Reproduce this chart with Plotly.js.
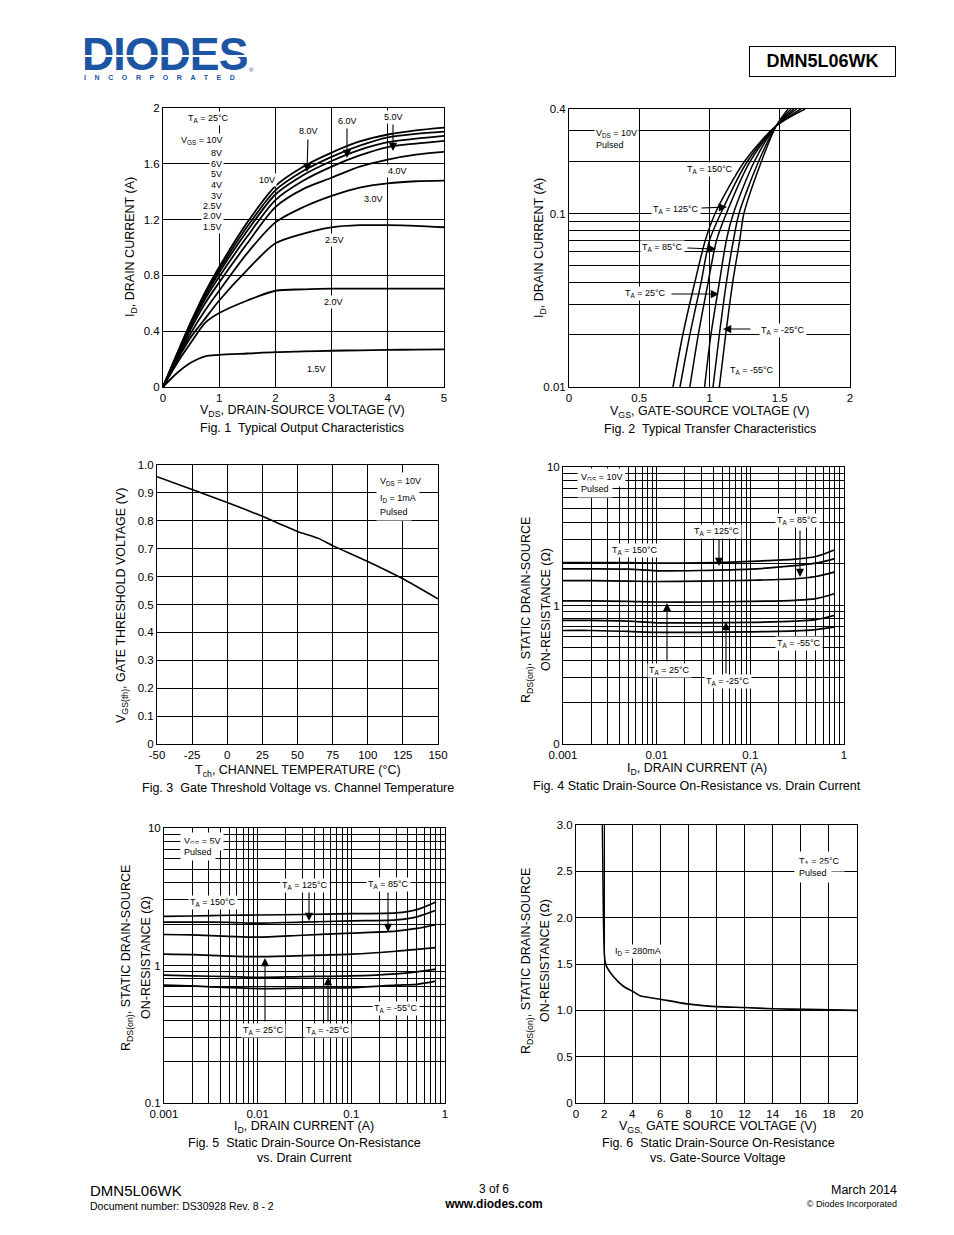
<!DOCTYPE html>
<html>
<head>
<meta charset="utf-8">
<script src="https://cdn.plot.ly/plotly-3.0.1.min.js"></script>
<style>
  body { margin: 0; background: #fff; font-family: "Liberation Sans", Arial, sans-serif; }
  #page { position: relative; width: 954px; height: 1235px; overflow: hidden; }
  #charts { position: absolute; left: 0; top: 0; width: 954px; height: 1235px; }
  .t { position: absolute; white-space: nowrap; line-height: 1; transform: translateY(-50%); color: #000; z-index: 5; }
</style>
</head>
<body>
<div id="page">
  <div id="charts"></div>

  <!-- header -->
  <div class="t" style="left:82px; top:54px; font-size:47px; line-height:0.72; font-weight:bold; color:#1c55a3; letter-spacing:-1px; transform:translateY(-50%) scaleX(0.95); transform-origin:left center;">DIODES</div>
  <div style="position:absolute; left:83px; top:55px; width:166px; height:2px; background:#fff; z-index:6;"></div>
  <div class="t" style="left:249px; top:70px; font-size:6px; color:#1c55a3;">®</div>
  <div class="t" style="left:84px; top:77px; font-size:7px; font-weight:bold; color:#1c55a3; letter-spacing:8.6px;">INCORPORATED</div>
  <div style="position:absolute; left:749px; top:46px; width:145px; height:29px; border:1.5px solid #000; z-index:5; display:flex; align-items:center; justify-content:center; font-size:18px; font-weight:bold;">DMN5L06WK</div>

  <!-- footer -->
  <div class="t" style="left:90px; top:1190px; font-size:15px;">DMN5L06WK</div>
  <div class="t" style="left:90px; top:1206px; font-size:10.5px;">Document number: DS30928 Rev. 8 - 2</div>
  <div class="t" style="left:444px; width:100px; text-align:center; top:1189px; font-size:12px;">3 of 6</div>
  <div class="t" style="left:424px; width:140px; text-align:center; top:1204px; font-size:12px; font-weight:bold;">www.diodes.com</div>
  <div class="t" style="right:57px; top:1190px; font-size:12.5px;">March 2014</div>
  <div class="t" style="right:57px; top:1204px; font-size:9px;">© Diodes Incorporated</div>
</div>

<script>
// ---- Fig. 1  Typical Output Characteristics (ID vs VDS) ----
const vds = [0, 0.25, 0.5, 0.75, 1, 1.5, 2, 2.5, 3, 3.5, 4, 4.5, 5];
const id_vgs10 = [0, 0.24, 0.47, 0.68, 0.86, 1.18, 1.44, 1.58, 1.68, 1.76, 1.81, 1.84, 1.86];
const id_vgs8 = [0, 0.235, 0.46, 0.665, 0.84, 1.15, 1.41, 1.55, 1.65, 1.73, 1.79, 1.815, 1.83];
const id_vgs6 = [0, 0.23, 0.45, 0.65, 0.82, 1.12, 1.38, 1.52, 1.62, 1.70, 1.755, 1.78, 1.80];
const id_vgs5 = [0, 0.225, 0.44, 0.63, 0.79, 1.08, 1.34, 1.48, 1.58, 1.66, 1.72, 1.745, 1.765];
const id_vgs4 = [0, 0.215, 0.42, 0.60, 0.75, 1.03, 1.29, 1.42, 1.50, 1.58, 1.63, 1.665, 1.685];
const id_vgs3 = [0, 0.2, 0.39, 0.55, 0.69, 0.96, 1.18, 1.29, 1.37, 1.43, 1.46, 1.475, 1.48];
const id_vgs25 = [0, 0.19, 0.36, 0.49, 0.62, 0.84, 1.03, 1.10, 1.145, 1.16, 1.16, 1.155, 1.145];
const id_vgs20 = [0, 0.17, 0.32, 0.46, 0.53, 0.62, 0.69, 0.70, 0.705, 0.705, 0.705, 0.705, 0.705];
const id_vgs15 = [0, 0.1, 0.175, 0.22, 0.23, 0.24, 0.25, 0.255, 0.26, 0.263, 0.266, 0.268, 0.27];

// ---- Fig. 2  Typical Transfer Characteristics (VGS at given ID) ----
const id_levels = [0.01, 0.02, 0.04, 0.07, 0.1, 0.2, 0.32, 0.4];
const vgs_t150 = [0.74, 0.81, 0.895, 0.97, 1.04, 1.25, 1.475, 1.68];
const vgs_t125 = [0.79, 0.86, 0.94, 1.0, 1.08, 1.27, 1.475, 1.65];
const vgs_t85 = [0.86, 0.92, 0.99, 1.05, 1.12, 1.29, 1.475, 1.62];
const vgs_t25 = [0.965, 1.01, 1.07, 1.12, 1.17, 1.32, 1.475, 1.60];
const vgs_tm25 = [1.025, 1.07, 1.12, 1.17, 1.21, 1.35, 1.475, 1.58];
const vgs_tm55 = [1.07, 1.115, 1.165, 1.215, 1.245, 1.37, 1.475, 1.56];

// ---- Fig. 3  Gate Threshold Voltage vs Channel Temperature ----
const tch = [-50, -25, 0, 25, 50, 65, 75, 100, 125, 150];
const vth = [0.958, 0.912, 0.866, 0.816, 0.762, 0.737, 0.711, 0.654, 0.592, 0.52];

// ---- Fig. 4  RDS(on) vs ID, VGS = 10V ----
const id_r = [0.001, 0.002, 0.005, 0.01, 0.03, 0.1, 0.3, 0.5, 0.8];
const r10_t150 = [2.04, 2.04, 2.04, 2.02, 2.03, 2.08, 2.16, 2.26, 2.53];
const r10_t125 = [1.84, 1.84, 1.83, 1.78, 1.79, 1.83, 1.94, 2.02, 2.18];
const r10_t85 = [1.51, 1.51, 1.5, 1.49, 1.5, 1.52, 1.56, 1.62, 1.75];
const r10_t25 = [1.08, 1.08, 1.07, 1.06, 1.06, 1.07, 1.09, 1.12, 1.22];
const r10_tm25 = [0.78, 0.78, 0.77, 0.75, 0.75, 0.755, 0.77, 0.79, 0.85];
const r10_tm55 = [0.66, 0.66, 0.65, 0.64, 0.64, 0.645, 0.655, 0.67, 0.70];

// ---- Fig. 5  RDS(on) vs ID, VGS = 5V ----
const r5_t150 = [2.28, 2.29, 2.32, 2.33, 2.35, 2.38, 2.41, 2.55, 2.9];
const r5_t125 = [2.07, 2.07, 2.06, 2.03, 2.07, 2.11, 2.15, 2.26, 2.52];
const r5_t85 = [1.68, 1.67, 1.63, 1.61, 1.66, 1.72, 1.78, 1.86, 1.98];
const r5_t25 = [1.21, 1.2, 1.17, 1.16, 1.18, 1.21, 1.27, 1.31, 1.35];
const r5_tm25 = [0.85, 0.84, 0.83, 0.82, 0.83, 0.84, 0.87, 0.9, 0.94];
const r5_tm55 = [0.72, 0.71, 0.69, 0.68, 0.685, 0.69, 0.72, 0.73, 0.77];

// ---- Fig. 6  RDS(on) vs VGS, ID = 280mA ----
const vgs6 = [1.88, 1.95, 2.02, 2.08, 2.19, 2.66, 3.37, 4.09, 4.56, 6, 7.9, 10, 11.9, 14, 16.4, 20];
const r6 = [3.0, 2.03, 1.6, 1.52, 1.47, 1.365, 1.26, 1.2, 1.157, 1.12, 1.07, 1.04, 1.03, 1.017, 1.01, 1.0];

// tick labels
const f3_xticks = [-50, -25, 0, 25, 50, 75, 100, 125, 150];
const f3_xlabels = ['-50', '-25', '0', '25', '50', '75', '100', '125', '150'];
const f3_yticks = [0, 0.1, 0.2, 0.3, 0.4, 0.5, 0.6, 0.7, 0.8, 0.9, 1.0];
const f3_ylabels = ['0', '0.1', '0.2', '0.3', '0.4', '0.5', '0.6', '0.7', '0.8', '0.9', '1.0'];
const f6_yticks = [0, 0.5, 1, 1.5, 2, 2.5, 3];
const f6_ylabels = ['0', '0.5', '1.0', '1.5', '2.0', '2.5', '3.0'];
const f2_ylabels = { 0.01: '0.01', 0.1: '0.1', 0.4: '0.4' };
const f45_xlabels = { 0.001: '0.001', 0.01: '0.01', 0.1: '0.1', 1: '1' };
const f4_ylabels = { 0.1: '0', 1: '1', 10: '10' };   // datasheet prints "0" at the bottom
const f5_ylabels = { 0.1: '0.1', 1: '1', 10: '10' };

const W = 954, H = 1235;
const FONT = '"Liberation Sans", Arial, sans-serif';
const px = v => v / W;
const py = v => 1 - v / H;

// grid positions 1..9 per decade
function logGrid(lo, hi) {
    const v = [];
    for (let e = lo; e < hi; e++)
        for (let m = 1; m < 10; m++) v.push(+(m * Math.pow(10, e)).toPrecision(3));
    v.push(Math.pow(10, hi));
    return v;
}
function labelsFor(vals, map) {
    return vals.map(v => map[String(v)] !== undefined ? map[String(v)] : '');
}

function axis(x0, x1, anchor, extra) {
    return Object.assign({
        domain: [px(x0), px(x1)], anchor: anchor,
        showline: true, mirror: true, linecolor: '#000', linewidth: 1,
        showgrid: true, gridcolor: '#000', gridwidth: 1,
        zeroline: false, ticks: '', fixedrange: true,
        tickfont: { family: FONT, size: 11.5, color: '#000' }
    }, extra);
}
function yaxis(y0, y1, anchor, extra) {
    return Object.assign({
        domain: [py(y1), py(y0)], anchor: anchor,
        showline: true, mirror: true, linecolor: '#000', linewidth: 1,
        showgrid: true, gridcolor: '#000', gridwidth: 1,
        zeroline: false, ticks: '', fixedrange: true,
        tickfont: { family: FONT, size: 11.5, color: '#000' }
    }, extra);
}

function curve(x, y, xa, ya, w, smooth) {
    return {
        x: x, y: y, xaxis: xa, yaxis: ya, type: 'scatter', mode: 'lines',
        line: { color: '#000', width: w, shape: 'spline', smoothing: smooth },
        hoverinfo: 'skip', showlegend: false
    };
}

const data = [];
[id_vgs10, id_vgs8, id_vgs6, id_vgs5, id_vgs4, id_vgs3, id_vgs25, id_vgs20, id_vgs15]
    .forEach(s => data.push(curve(vds, s, 'x', 'y', 1.8, 0.8)));
[vgs_t150, vgs_t125, vgs_t85, vgs_t25, vgs_tm25, vgs_tm55]
    .forEach(s => data.push(curve(s, id_levels, 'x2', 'y2', 1.5, 0.8)));
data.push(curve(tch, vth, 'x3', 'y3', 1.6, 0.5));
[r10_t150, r10_t125, r10_t85, r10_t25, r10_tm25, r10_tm55]
    .forEach(s => data.push(curve(id_r, s, 'x4', 'y4', 1.7, 0.8)));
[r5_t150, r5_t125, r5_t85, r5_t25, r5_tm25, r5_tm55]
    .forEach(s => data.push(curve(id_r, s, 'x5', 'y5', 1.7, 0.8)));
data.push(curve(vgs6, r6, 'x6', 'y6', 1.6, 0.5));

const grid2y = [0.01, 0.02, 0.03, 0.04, 0.05, 0.06, 0.07, 0.08, 0.09, 0.1, 0.2, 0.3, 0.4];
const grid45x = logGrid(-3, 0);
const grid45y = logGrid(-1, 1);

// annotation helpers (page pixel positions)
function label(text, x, y, o) {
    return Object.assign({
        xref: 'paper', yref: 'paper', x: px(x), y: py(y), text: text, showarrow: false,
        font: { family: FONT, size: 9, color: '#000' },
        xanchor: 'center', yanchor: 'middle', bgcolor: '#fff', borderpad: 1
    }, o || {});
}
function arrow(tx, ty, sx, sy) {
    return {
        xref: 'paper', yref: 'paper', x: px(tx), y: py(ty), ax: sx - tx, ay: sy - ty,
        text: '', showarrow: true, arrowhead: 2, arrowsize: 1.5, arrowwidth: 1.1,
        arrowcolor: '#000', standoff: 0
    };
}
function title(text, x, y, o) {
    return Object.assign({
        xref: 'paper', yref: 'paper', x: px(x), y: py(y), text: text, showarrow: false,
        font: { family: FONT, size: 12.5, color: '#000' }, xanchor: 'center', yanchor: 'middle'
    }, o || {});
}
const TA = t => 'T<sub>A</sub> = ' + t;

const annotations = [
    // Fig 1
    label(TA('25°C'), 208, 118),
    label('V<sub>GS</sub> = 10V', 224, 141, { xanchor: 'right' }),
    label('8V', 224, 153, { xanchor: 'right' }),
    label('6V', 224, 164, { xanchor: 'right' }),
    label('5V', 224, 174, { xanchor: 'right' }),
    label('4V', 224, 185, { xanchor: 'right' }),
    label('3V', 224, 196, { xanchor: 'right' }),
    label('2.5V', 224, 206, { xanchor: 'right' }),
    label('2.0V', 224, 216, { xanchor: 'right' }),
    label('1.5V', 224, 227, { xanchor: 'right' }),
    label('8.0V', 308, 131), arrow(307, 172, 308, 138),
    label('6.0V', 347, 121), arrow(347, 158, 347, 127),
    label('5.0V', 393, 117), arrow(393, 151, 393, 123),
    label('10V', 267, 180),
    label('4.0V', 397, 171),
    label('3.0V', 373, 199),
    label('2.5V', 334, 240),
    label('2.0V', 333, 302),
    label('1.5V', 316, 369),
    title('V<sub>DS</sub>, DRAIN-SOURCE VOLTAGE (V)', 302, 411),
    title('Fig. 1  Typical Output Characteristics', 302, 428),
    title('I<sub>D</sub>, DRAIN CURRENT (A)', 131, 247, { textangle: -90 }),

    // Fig 2
    label('V<sub>DS</sub> = 10V', 594, 133, { xanchor: 'left' }),
    label('Pulsed', 594, 145, { xanchor: 'left' }),
    label(TA('150°C'), 710, 170),
    label(TA('125°C'), 676, 209), arrow(727, 207, 700, 208),
    label(TA('85°C'), 662, 248), arrow(716, 249, 686, 248),
    label(TA('25°C'), 645, 294), arrow(719, 294, 670, 294),
    label(TA('-25°C'), 783, 330), arrow(723, 329, 752, 329),
    label(TA('-55°C'), 752, 371),
    title('V<sub>GS</sub>, GATE-SOURCE VOLTAGE (V)', 710, 412),
    title('Fig. 2  Typical Transfer Characteristics', 710, 429),
    title('I<sub>D</sub>, DRAIN CURRENT (A)', 540, 248, { textangle: -90 }),

    // Fig 3
    label('V<sub>DS</sub> = 10V', 376, 482, { xanchor: 'left', borderpad: 3 }),
    label('I<sub>D</sub> = 1mA', 376, 498, { xanchor: 'left', borderpad: 3 }),
    label('Pulsed', 376, 512, { xanchor: 'left', borderpad: 3 }),
    title('T<sub>ch</sub>, CHANNEL TEMPERATURE (°C)', 298, 771),
    title('Fig. 3  Gate Threshold Voltage vs. Channel Temperature', 298, 788),
    title('V<sub>GS(th)</sub>, GATE THRESHOLD VOLTAGE (V)', 122, 606, { textangle: -90 }),

    // Fig 4
    label('V<sub>GS</sub> = 10V', 577, 478, { xanchor: 'left', borderpad: 3 }),
    label('Pulsed', 577, 489, { xanchor: 'left', borderpad: 3 }),
    label(TA('85°C'), 797, 520), arrow(800, 577, 800, 529),
    label(TA('125°C'), 717, 531), arrow(719, 566, 719, 538),
    label(TA('150°C'), 635, 550),
    label(TA('25°C'), 669, 670), arrow(667, 603, 667, 663),
    label(TA('-25°C'), 728, 682), arrow(726, 622, 726, 675),
    label(TA('-55°C'), 799, 643),
    title('I<sub>D</sub>, DRAIN CURRENT (A)', 697, 769),
    title('Fig. 4 Static Drain-Source On-Resistance vs. Drain Current', 697, 786),
    title('R<sub>DS(on)</sub>, STATIC DRAIN-SOURCE', 527, 610, { textangle: -90 }),
    title('ON-RESISTANCE (Ω)', 546, 610, { textangle: -90 }),

    // Fig 5
    label('V<sub>GS</sub> = 5V', 180, 841, { xanchor: 'left', borderpad: 3 }),
    label('Pulsed', 180, 852, { xanchor: 'left', borderpad: 3 }),
    label(TA('125°C'), 305, 885), arrow(309, 921, 309, 891),
    label(TA('85°C'), 388, 884), arrow(388, 932, 388, 891),
    label(TA('150°C'), 213, 902),
    label(TA('25°C'), 263, 1030), arrow(265, 958, 265, 1023),
    label(TA('-25°C'), 328, 1030), arrow(328, 977, 328, 1023),
    label(TA('-55°C'), 396, 1008),
    title('I<sub>D</sub>, DRAIN CURRENT (A)', 304, 1127),
    title('Fig. 5  Static Drain-Source On-Resistance', 304, 1143),
    title('vs. Drain Current', 304, 1158),
    title('R<sub>DS(on)</sub>, STATIC DRAIN-SOURCE', 127, 958, { textangle: -90 }),
    title('ON-RESISTANCE (Ω)', 146, 958, { textangle: -90 }),

    // Fig 6
    label(TA('25°C'), 794, 861, { xanchor: 'left', borderpad: 4 }),
    label('Pulsed', 794, 873, { xanchor: 'left', borderpad: 4 }),
    label('I<sub>D</sub> = 280mA', 613, 951, { xanchor: 'left' }),
    title('V<sub>GS,</sub> GATE SOURCE VOLTAGE (V)', 718, 1127),
    title('Fig. 6  Static Drain-Source On-Resistance', 718, 1143),
    title('vs. Gate-Source Voltage', 718, 1158),
    title('R<sub>DS(on)</sub>, STATIC DRAIN-SOURCE', 527, 961, { textangle: -90 }),
    title('ON-RESISTANCE (Ω)', 545, 961, { textangle: -90 })
];

const layout = {
    width: W, height: H,
    margin: { l: 0, r: 0, t: 0, b: 0 },
    paper_bgcolor: '#fff', plot_bgcolor: '#fff',
    showlegend: false,
    font: { family: FONT, color: '#000' },

    xaxis: axis(163, 444, 'y', { range: [0, 5], dtick: 1 }),
    yaxis: yaxis(108, 387, 'x', { range: [0, 2], dtick: 0.4 }),

    xaxis2: axis(569, 850, 'y2', { range: [0, 2], tickmode: 'array', tickvals: [0, 0.5, 1, 1.5, 2], ticktext: ['0', '0.5', '1', '1.5', '2'] }),
    yaxis2: yaxis(109, 387, 'x2', { type: 'log', range: [-2, Math.log10(0.4)], tickmode: 'array', tickvals: grid2y, ticktext: labelsFor(grid2y, f2_ylabels) }),

    xaxis3: axis(157, 438, 'y3', { range: [-50, 150], tickmode: 'array', tickvals: f3_xticks, ticktext: f3_xlabels }),
    yaxis3: yaxis(465, 744, 'x3', { range: [0, 1], tickmode: 'array', tickvals: f3_yticks, ticktext: f3_ylabels }),

    xaxis4: axis(563, 844, 'y4', { type: 'log', range: [-3, 0], tickmode: 'array', tickvals: grid45x, ticktext: labelsFor(grid45x, f45_xlabels) }),
    yaxis4: yaxis(467, 744, 'x4', { type: 'log', range: [-1, 1], tickmode: 'array', tickvals: grid45y, ticktext: labelsFor(grid45y, f4_ylabels) }),

    xaxis5: axis(164, 445, 'y5', { type: 'log', range: [-3, 0], tickmode: 'array', tickvals: grid45x, ticktext: labelsFor(grid45x, f45_xlabels) }),
    yaxis5: yaxis(828, 1103, 'x5', { type: 'log', range: [-1, 1], tickmode: 'array', tickvals: grid45y, ticktext: labelsFor(grid45y, f5_ylabels) }),

    xaxis6: axis(576, 857, 'y6', { range: [0, 20], dtick: 2 }),
    yaxis6: yaxis(825, 1103, 'x6', { range: [0, 3], tickmode: 'array', tickvals: f6_yticks, ticktext: f6_ylabels }),

    annotations: annotations
};

Plotly.newPlot('charts', data, layout, { staticPlot: true, displayModeBar: false });
</script>
</body>
</html>
